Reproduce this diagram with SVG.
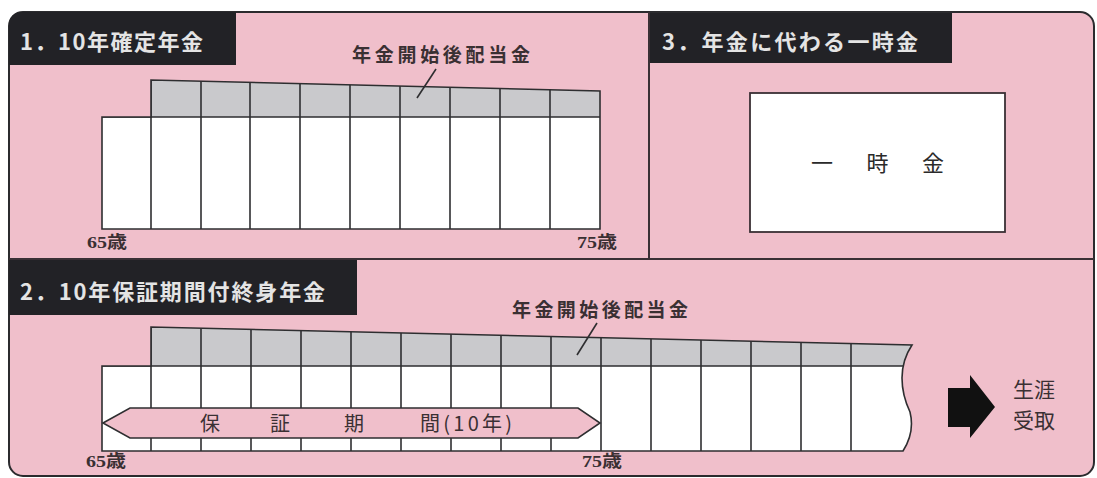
<svg xmlns="http://www.w3.org/2000/svg" width="1097" height="478" viewBox="0 0 1097 478">
<style>
.frame{fill:#f0bfcb;stroke:#2b2b2e;stroke-width:2}
.div{stroke:#3a3035;stroke-width:2;fill:none}
.tbox{fill:#222226}
.ttl{font-family:"Noto Sans CJK JP",sans-serif;font-size:22px;font-weight:bold;fill:#e4e4e4}
.gray{fill:#c9c9cc}
.white{fill:#ffffff}
.ln{stroke:#2e2e30;stroke-width:1.6;fill:none}
.lbl{font-family:"Noto Sans CJK JP",sans-serif;font-size:19px;font-weight:bold;fill:#3a3033}
.age{font-family:"Liberation Serif","Noto Sans CJK JP",serif;font-size:17px;font-weight:bold;fill:#3a3033}
.big{font-family:"Noto Sans CJK JP",sans-serif;font-size:22px;fill:#2a2a2a}
.band{font-family:"Noto Sans CJK JP",sans-serif;font-size:20px;fill:#3a3033}
.side{font-family:"Noto Sans CJK JP",sans-serif;font-size:21px;fill:#3a3033}
</style>
<defs>
<clipPath id="c1"><path d="M102,117 L151,117 L151,80 L600,91 L600,229 L102,229 Z"/></clipPath>
<clipPath id="c2"><path d="M102,366 L151,366 L151,327 L912,345 Q902,360 902,378 Q902,395 910,412 Q915,432 903,451 L102,451 Z"/></clipPath>
</defs>
<rect width="1097" height="478" fill="#ffffff"/>
<rect class="frame" x="9" y="12" width="1085" height="464" rx="14"/>
<line class="div" x1="9" y1="259" x2="1094" y2="259"/>
<line class="div" x1="649" y1="12" x2="649" y2="259"/>

<g id="panel1">
<path class="tbox" d="M9,65 L9,26 Q9,12 23,12 L236,12 L236,65 Z"/>
<text class="ttl" x="20" y="50" textLength="183" lengthAdjust="spacing">1．10年確定年金</text>
<g clip-path="url(#c1)">
<rect class="gray" x="151" y="70" width="460" height="47"/>
<rect class="white" x="102" y="117" width="500" height="112"/>
<path class="ln" d="M102,117 H600 M151,70 V229 M201,70 V229 M250,70 V229 M300,70 V229 M350,70 V229 M400,70 V229 M450,70 V229 M500,70 V229 M550,70 V229"/>
</g>
<path class="ln" d="M102,117 L151,117 L151,80 L600,91 L600,229 L102,229 Z"/>
<text class="lbl" x="352" y="62" textLength="178" lengthAdjust="spacing">年金開始後配当金</text>
<text class="age" x="87" y="248" textLength="40" lengthAdjust="spacingAndGlyphs">65歳</text>
<text class="age" x="577" y="248" textLength="40" lengthAdjust="spacingAndGlyphs">75歳</text>
</g>

<g id="panel3">
<rect class="tbox" x="650" y="13" width="302" height="50"/>
<text class="ttl" x="662" y="50" textLength="256" lengthAdjust="spacing">3．年金に代わる一時金</text>
<rect x="750" y="93" width="255" height="139" fill="#ffffff" stroke="#3a3035" stroke-width="1.8"/>
<text class="big" x="811" y="171" textLength="133" lengthAdjust="spacing">一　時　金</text>
</g>

<g id="panel2">
<rect class="tbox" x="9" y="260" width="348" height="55"/>
<text class="ttl" x="20" y="300" textLength="305" lengthAdjust="spacing">2．10年保証期間付終身年金</text>
<g clip-path="url(#c2)">
<rect class="gray" x="151" y="315" width="770" height="51"/>
<rect class="white" x="102" y="366" width="820" height="85"/>
<path class="ln" d="M102,366 H920 M151,315 V451 M201,315 V451 M251,315 V451 M301,315 V451 M351,315 V451 M401,315 V451 M451,315 V451 M501,315 V451 M551,315 V451 M601,315 V451 M651,315 V451 M701,315 V451 M751,315 V451 M801,315 V451 M851,315 V451"/>
</g>
<path class="ln" d="M102,366 L151,366 L151,327 L912,345 Q902,360 902,378 Q902,395 910,412 Q915,432 903,451 L102,451 Z"/>
<text class="lbl" x="512" y="317" textLength="176" lengthAdjust="spacing">年金開始後配当金</text>
<text class="age" x="86" y="467" textLength="40" lengthAdjust="spacingAndGlyphs">65歳</text>
<text class="age" x="582" y="467" textLength="40" lengthAdjust="spacingAndGlyphs">75歳</text>
</g>

<g id="guarantee">
<polygon points="103,423 130,408 578,408 600,423 578,438 130,438" fill="#f0bfcb" stroke="#2e2e30" stroke-width="1.6"/>
<text class="band" x="200" y="431">保</text>
<text class="band" x="270" y="431">証</text>
<text class="band" x="344" y="431">期</text>
<text class="band" x="420" y="431" textLength="92" lengthAdjust="spacing">間(10年)</text>
</g>

<g id="lifetime">
<polygon points="948,388 970,388 970,375 995,407 970,438 970,427 948,427" fill="#111111"/>
<text class="side" x="1013" y="397">生涯</text>
<text class="side" x="1013" y="428">受取</text>
</g>

<g id="connectors">
<line class="ln" x1="436" y1="69" x2="417" y2="98"/>
<line class="ln" x1="597" y1="323" x2="577" y2="355"/>
</g>
</svg>
